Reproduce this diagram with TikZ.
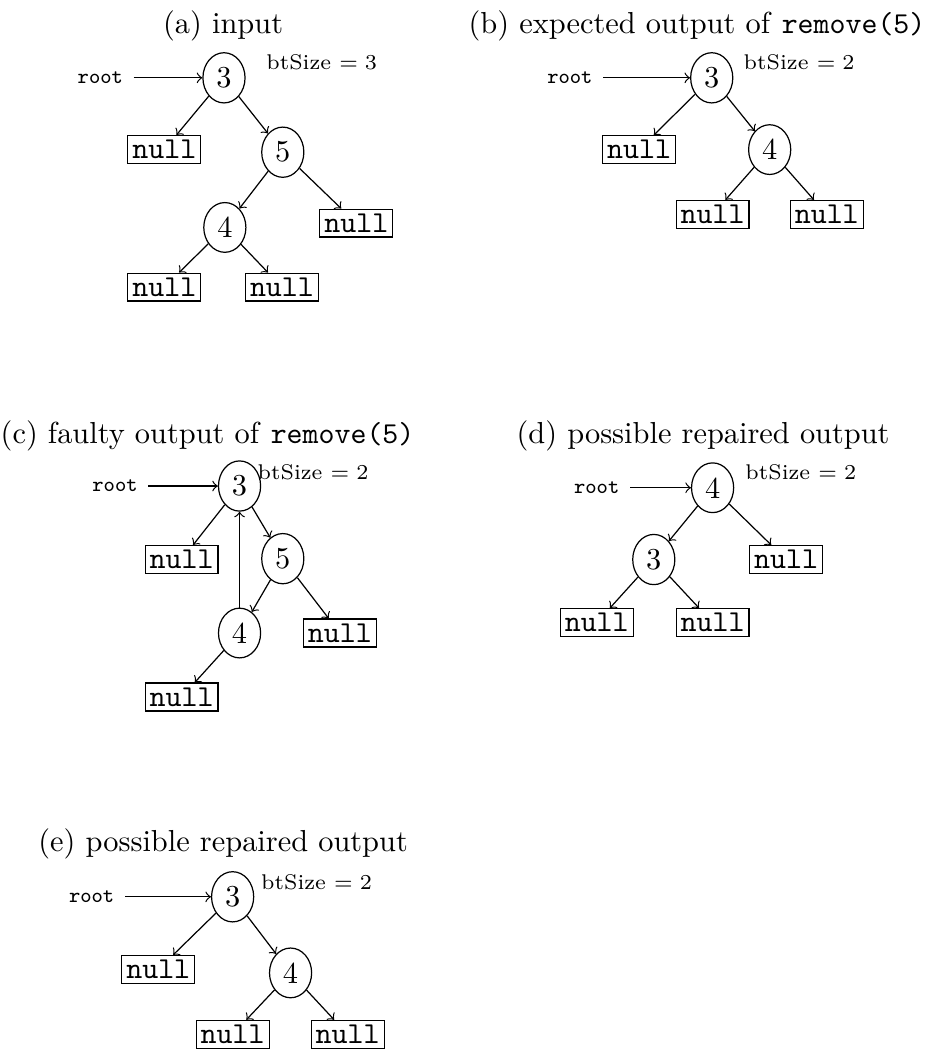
\documentclass[tikz,border=0pt]{standalone}
\usetikzlibrary{shapes.geometric}

\begin{document}
\begin{tikzpicture}[
    elem/.style={ellipse, draw, inner sep=2.4pt},
    nil/.style={rectangle, draw, font=\ttfamily, inner sep=1.5pt},
    ptr/.style={font=\ttfamily\scriptsize},
    size/.style={font=\scriptsize},
    caption/.style={anchor=base},
    link/.style={->}
]
    \useasboundingbox (0,0) rectangle (10.82,-12.13);

    % (a) input
    \node[caption] (ta) at (2.58, -0.39) {(a) input};
    \node[elem] (a3) at (2.59, -0.90) {3};
    \node[ptr] (aroot) at (1.16, -0.90) {root};
    \node[size] (asize) at (3.72, -0.72) {btSize $= 3$};
    \node[nil] (anull1) at (1.90, -1.73) {null};
    \node[elem] (a5) at (3.27, -1.76) {5};
    \node[elem] (a4) at (2.60, -2.63) {4};
    \node[nil] (anull2) at (4.12, -2.58) {null};
    \node[nil] (anull3) at (1.90, -3.32) {null};
    \node[nil] (anull4) at (3.26, -3.32) {null};
    \draw[link] (aroot) -- (a3);
    \draw[link] (a3) -- (anull1);
    \draw[link] (a3) -- (a5);
    \draw[link] (a5) -- (a4);
    \draw[link] (a5) -- (anull2);
    \draw[link] (a4) -- (anull3);
    \draw[link] (a4) -- (anull4);

    % (b) expected output
    \node[caption] (tb) at (8.06, -0.39) {(b) expected output of \texttt{remove(5)}};
    \node[elem] (b3) at (8.23, -0.90) {3};
    \node[ptr] (broot) at (6.59, -0.90) {root};
    \node[size] (bsize) at (9.24, -0.72) {btSize $= 2$};
    \node[nil] (bnull1) at (7.39, -1.73) {null};
    \node[elem] (b4) at (8.90, -1.73) {4};
    \node[nil] (bnull2) at (8.24, -2.48) {null};
    \node[nil] (bnull3) at (9.56, -2.48) {null};
    \draw[link] (broot) -- (b3);
    \draw[link] (b3) -- (bnull1);
    \draw[link] (b3) -- (b4);
    \draw[link] (b4) -- (bnull2);
    \draw[link] (b4) -- (bnull3);

    % (c) faulty output, 4 points back to the root
    \node[caption] (tc) at (2.40, -5.13) {(c) faulty output of \texttt{remove(5)}};
    \node[elem] (c3) at (2.77, -5.62) {3};
    \node[ptr] (croot) at (1.33, -5.62) {root};
    \node[size] (csize) at (3.62, -5.46) {btSize $= 2$};
    \node[nil] (cnull1) at (2.10, -6.47) {null};
    \node[elem] (c5) at (3.27, -6.46) {5};
    \node[elem] (c4) at (2.77, -7.32) {4};
    \node[nil] (cnull2) at (3.93, -7.32) {null};
    \node[nil] (cnull3) at (2.10, -8.06) {null};
    \draw[link] (croot) -- (c3);
    \draw[link] (c3) -- (cnull1);
    \draw[link] (c3) -- (c5);
    \draw[link] (c5) -- (c4);
    \draw[link] (c5) -- (cnull2);
    \draw[link] (c4) -- (cnull3);
    \draw[link] (c4) -- (c3);

    % (d) repaired, 4 at the root
    \node[caption] (td) at (8.13, -5.13) {(d) possible repaired output};
    \node[elem] (d4) at (8.24, -5.64) {4};
    \node[ptr] (droot) at (6.90, -5.64) {root};
    \node[size] (dsize) at (9.26, -5.46) {btSize $= 2$};
    \node[elem] (d3) at (7.56, -6.47) {3};
    \node[nil] (dnull1) at (9.09, -6.47) {null};
    \node[nil] (dnull2) at (6.90, -7.20) {null};
    \node[nil] (dnull3) at (8.24, -7.20) {null};
    \draw[link] (droot) -- (d4);
    \draw[link] (d4) -- (d3);
    \draw[link] (d4) -- (dnull1);
    \draw[link] (d3) -- (dnull2);
    \draw[link] (d3) -- (dnull3);

    % (e) repaired, 3 at the root
    \node[caption] (te) at (2.58, -9.85) {(e) possible repaired output};
    \node[elem] (e3) at (2.69, -10.37) {3};
    \node[ptr] (eroot) at (1.06, -10.37) {root};
    \node[size] (esize) at (3.66, -10.20) {btSize $= 2$};
    \node[nil] (enull1) at (1.83, -11.21) {null};
    \node[elem] (e4) at (3.36, -11.25) {4};
    \node[nil] (enull2) at (2.69, -11.96) {null};
    \node[nil] (enull3) at (4.02, -11.96) {null};
    \draw[link] (eroot) -- (e3);
    \draw[link] (e3) -- (enull1);
    \draw[link] (e3) -- (e4);
    \draw[link] (e4) -- (enull2);
    \draw[link] (e4) -- (enull3);
\end{tikzpicture}
\end{document}
